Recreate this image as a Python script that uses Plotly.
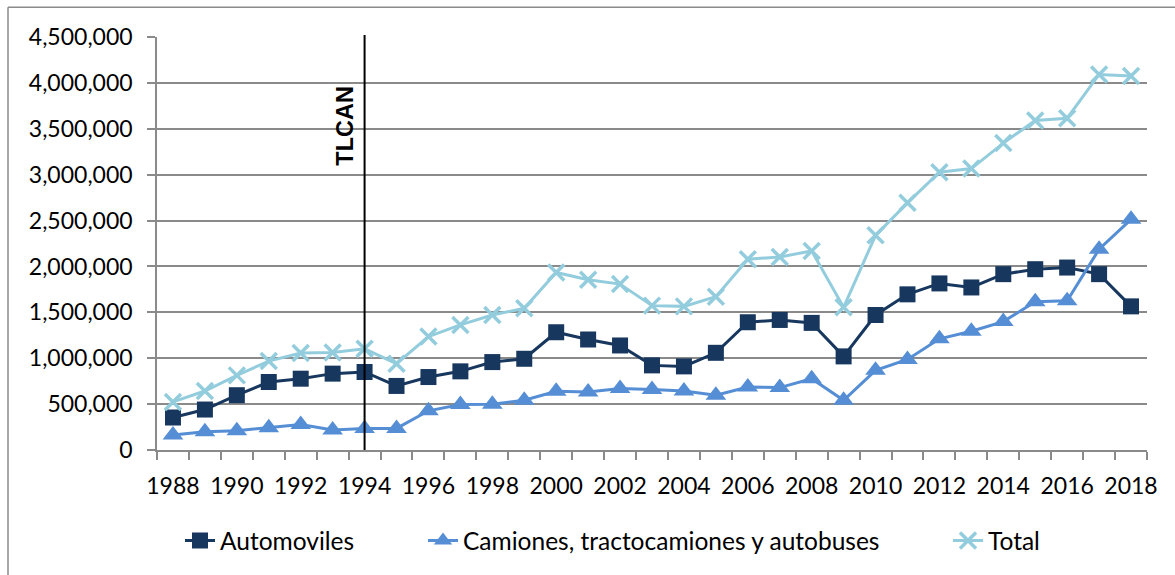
import plotly.graph_objects as go

years = list(range(1988, 2019))
automoviles = [354000, 441000, 597000, 741000, 777000, 832000, 850000, 698000, 795000, 857000,
               958000, 994000, 1283000, 1204000, 1139000, 922000, 911000, 1059000, 1392000, 1417000,
               1385000, 1020000, 1471000, 1696000, 1815000, 1771000, 1916000, 1970000, 1988000, 1916000,
               1565000]
camiones = [163000, 199000, 210000, 242000, 278000, 217000, 235000, 235000, 427000, 495000,
            499000, 542000, 640000, 633000, 669000, 658000, 644000, 597000, 687000, 680000,
            777000, 542000, 868000, 987000, 1211000, 1294000, 1399000, 1616000, 1627000, 2187000,
            2513000]
total = [524000, 643000, 813000, 969000, 1056000, 1063000, 1103000, 940000, 1236000, 1363000,
         1471000, 1544000, 1934000, 1855000, 1808000, 1573000, 1565000, 1670000, 2079000, 2104000,
         2169000, 1555000, 2339000, 2693000, 3026000, 3066000, 3344000, 3590000, 3615000, 4092000,
         4074000]
x_tick_labels = [str(y) for y in range(1988, 2019, 2)]
y_ticks = list(range(0, 4500001, 500000))
tlcan_year = 1994
tlcan_label = "TLCAN"

FONT = "Lato"
GRID = "#8a8a8a"

L, R, T, B = 157, 28, 37, 123
W, H = 1175, 575
pw = W - L - R
ph = H - T - B

fig = go.Figure()
fig.add_trace(go.Scatter(
    x=years, y=automoviles, name="Automoviles", mode="lines+markers",
    line=dict(color="#17375E", width=3),
    marker=dict(symbol="square", size=16, color="#17375E"),
    legend="legend",
))
fig.add_trace(go.Scatter(
    x=years, y=camiones, name="Camiones, tractocamiones y autobuses", mode="lines+markers",
    line=dict(color="#558ED5", width=3),
    marker=dict(symbol="triangle-up", size=18, color="#558ED5"),
    legend="legend2",
))
fig.add_trace(go.Scatter(
    x=years, y=total, name="Total", mode="lines+markers",
    line=dict(color="#93CDDD", width=3),
    marker=dict(symbol="x-thin", size=16, line=dict(color="#93CDDD", width=3.5), color="#93CDDD"),
    legend="legend3",
))


def legend_at(px_left):
    return dict(
        orientation="h", x=(px_left - L) / pw, xanchor="left",
        y=-(543 - (H - B)) / ph, yanchor="middle",
        font=dict(family=FONT, size=24.5, color="black"),
        bgcolor="rgba(0,0,0,0)",
    )


fig.update_layout(
    width=W, height=H, autosize=False,
    margin=dict(l=L, r=R, t=T, b=B),
    paper_bgcolor="white", plot_bgcolor="white",
    font=dict(family=FONT, size=23, color="black"),
    showlegend=True,
    legend=legend_at(180),
    legend2=legend_at(423),
    legend3=legend_at(948),
    xaxis=dict(
        range=[years[0] - 0.5, years[-1] + 0.5],
        tickmode="array", tickvals=[int(t) for t in x_tick_labels], ticktext=x_tick_labels,
        ticks="", showgrid=False, zeroline=False,
        showline=True, linecolor=GRID, linewidth=1.5,
        ticklabelstandoff=15,
        minor=dict(tickmode="array", tickvals=[y - 0.5 for y in years] + [years[-1] + 0.5],
                   ticks="outside", ticklen=8, tickcolor=GRID, tickwidth=1.5, showgrid=False),
    ),
    yaxis=dict(
        range=[0, 4500000], tickmode="array", tickvals=y_ticks,
        tickformat=",d", ticks="outside", ticklen=8, tickcolor=GRID, tickwidth=1.5,
        showgrid=True, gridcolor=GRID, gridwidth=1.5, zeroline=False,
        showline=True, linecolor=GRID, linewidth=1.5,
        ticklabelstandoff=10,
    ),
)

# TLCAN vertical reference line
fig.add_shape(type="line", xref="x", yref="paper", x0=tlcan_year, x1=tlcan_year,
              y0=0, y1=1.005, line=dict(color="black", width=2))
fig.add_annotation(text="<b>" + tlcan_label + "</b>", xref="x", yref="paper",
                   x=tlcan_year, y=(H - B - 126.5) / ph, xshift=-20, textangle=-90,
                   xanchor="center", yanchor="middle",
                   showarrow=False, font=dict(family="Liberation Sans", size=23.5, color="black"))

# outer chart frame (left and top edges visible)
fx = (8 - L) / pw
fy = (H - B - 7) / ph
fig.add_shape(type="line", xref="paper", yref="paper", x0=fx, x1=fx, y0=fy, y1=-(B + 5) / ph,
              line=dict(color=GRID, width=1.5))
fig.add_shape(type="line", xref="paper", yref="paper", x0=fx, x1=(W - L + 5) / pw, y0=fy, y1=fy,
              line=dict(color=GRID, width=1.5))

fig.write_html("out.html", post_script="document.body.style.margin='0';",
               config={"displayModeBar": False})
